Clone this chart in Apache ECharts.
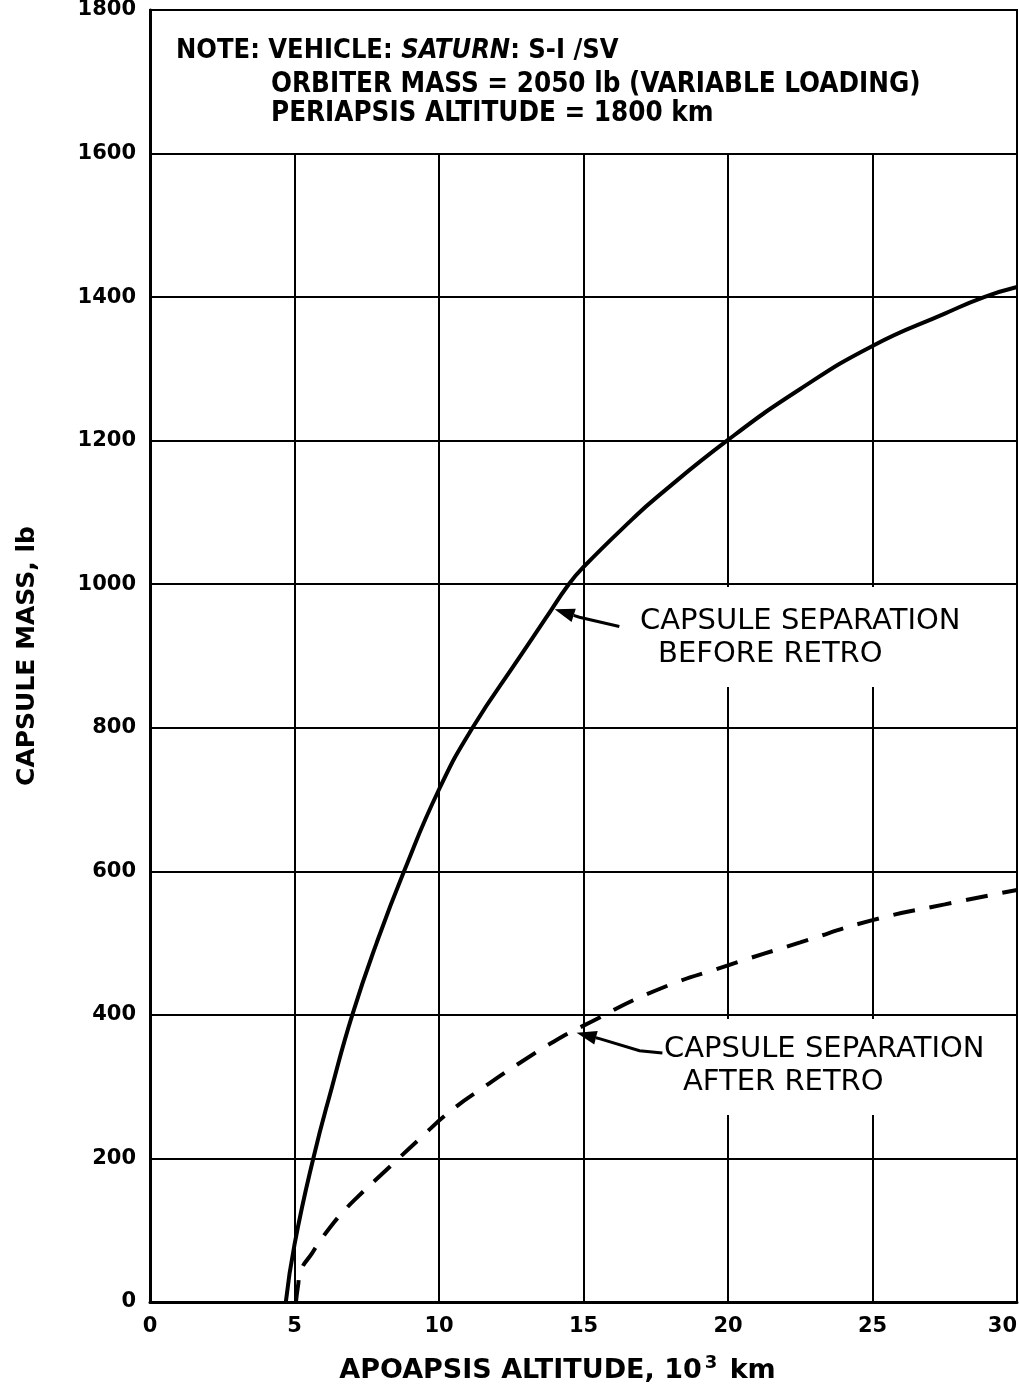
<!DOCTYPE html>
<html>
<head>
<meta charset="utf-8">
<script src="https://cdn.jsdelivr.net/npm/echarts@6/dist/echarts.min.js"></script>
<style>
html,body{margin:0;padding:0;background:#fff;}
#c{width:1019px;height:1384px;}
</style>
</head>
<body>
<div id="c"></div>
<script>
// ---- data ----
const xTicks = [0, 5, 10, 15, 20, 25, 30];
const yTicks = [0, 200, 400, 600, 800, 1000, 1200, 1400, 1600, 1800];
const gridX = [5, 10, 15, 20, 25];
const boxBottom = 1600;

const beforeX = [4.7, 5.0, 5.65, 6.3, 7.0, 7.84, 8.79, 10.0, 11.16, 12.8, 13.7, 14.49, 15.0, 16.7, 17.5, 20.0, 22.5, 25.0, 27.5, 28.86, 30.0];
const beforeY = [0, 80, 200, 300, 400, 500, 600, 714, 800, 899, 953, 1000, 1024, 1091, 1120, 1201, 1272, 1332, 1377, 1400, 1414];

const afterX = [5.05, 5.12, 5.22, 5.61, 5.85, 6.37, 6.65, 7.07, 8.26, 9.32, 10.4, 11.65, 12.83, 13.98, 15.0, 17.5, 20.0, 22.5, 25.0, 27.5, 30.0];
const afterY = [0, 22, 44, 68, 83, 111, 124, 142, 187, 227, 266, 302, 334, 363, 385, 434, 469, 501, 532, 554, 574];

const noteLines = ['ORBITER MASS = 2050 lb (VARIABLE LOADING)', 'PERIAPSIS ALTITUDE = 1800 km'];
const beforeLabel = ['CAPSULE SEPARATION', 'BEFORE RETRO'];
const afterLabel = ['CAPSULE SEPARATION', 'AFTER RETRO'];
const beforeArrow = [[16.24, 941], [14.86, 954], [14.0, 965]];
const afterArrow = [[17.73, 347], [16.94, 350], [15.55, 367], [14.76, 375]];

const FONT = "'DejaVu Sans', 'Noto Sans CJK SC', sans-serif";
const FONTC = "'DejaVu Sans Condensed', 'DejaVu Sans', 'Noto Sans CJK SC', sans-serif";

const zip = (a, b) => a.map((v, i) => [v, b[i]]);

const chart = echarts.init(document.getElementById('c'), null, {renderer: 'canvas'});

chart.setOption({
  animation: false,
  backgroundColor: '#fff',
  grid: {left: 150, right: 2, top: 10, bottom: 82, show: true, borderColor: '#000', borderWidth: 2,
         containLabel: false, outerBoundsMode: 'none'},
  xAxis: {
    type: 'value', min: 0, max: 30, interval: 5,
    axisLine: {show: true, lineStyle: {color: '#000', width: 3}},
    axisTick: {show: false},
    splitLine: {show: false},
    axisLabel: {color: '#000', fontSize: 21, fontWeight: 'bold', fontFamily: FONT, margin: 14,
                alignMaxLabel: 'right', formatter: v => String(v)},
    name: '{a|APOAPSIS ALTITUDE, 10}{s|3}{a| km}',
    nameLocation: 'middle', nameGap: 52,
    nameTextStyle: {color: '#000', fontSize: 27, fontWeight: 'bold', fontFamily: FONT, padding: [0, 52, 0, 0],
      rich: {
        a: {color: '#000', fontSize: 27, fontWeight: 'bold', fontFamily: FONT, verticalAlign: 'bottom', lineHeight: 30},
        s: {color: '#000', fontSize: 18, fontWeight: 'bold', fontFamily: FONT, verticalAlign: 'top', padding: [0, 3, 12, 3], lineHeight: 30}
      }}
  },
  yAxis: {
    type: 'value', min: 0, max: 1800, interval: 200,
    axisLine: {show: true, lineStyle: {color: '#000', width: 3}},
    axisTick: {show: false},
    splitLine: {show: true, lineStyle: {color: '#000', width: 2}},
    axisLabel: {color: '#000', fontSize: 21, fontWeight: 'bold', fontFamily: FONT, margin: 14,
                formatter: v => String(v)},
    name: 'CAPSULE MASS, lb',
    nameLocation: 'middle', nameGap: 110,
    nameTextStyle: {color: '#000', fontSize: 25, fontWeight: 'bold', fontFamily: FONT}
  },
  series: [
    {
      type: 'line', data: [], silent: true,
      markLine: {
        silent: true, symbol: 'none', label: {show: false},
        lineStyle: {color: '#000', width: 2, type: 'solid'},
        data: gridX.map(x => [{coord: [x, 0]}, {coord: [x, boxBottom]}])
      }
    },
    {
      type: 'line', name: 'before', data: zip(beforeX, beforeY),
      showSymbol: false, smooth: 0.5, z: 5,
      lineStyle: {color: '#000', width: 4}
    },
    {
      type: 'line', name: 'after', data: zip(afterX, afterY),
      showSymbol: false, smooth: 0.5, z: 5,
      lineStyle: {color: '#000', width: 4, type: [22, 15]}
    }
  ]
});

const px = p => chart.convertToPixel({gridIndex: 0}, p);

function arrowEls(pts) {
  const P = pts.map(px);
  const t = P[P.length - 1], q = P[P.length - 2];
  let dx = t[0] - q[0], dy = t[1] - q[1];
  const L = Math.hypot(dx, dy); dx /= L; dy /= L;
  const hl = 20, hw = 7;
  const bx = t[0] - dx * hl, by = t[1] - dy * hl;
  const line = P.slice(0, -1).concat([[bx, by]]);
  return [
    {type: 'polyline', z: 100, shape: {points: line}, style: {stroke: '#000', lineWidth: 3, fill: null}},
    {type: 'polygon', z: 100, shape: {points: [t, [bx - dy * hw, by + dx * hw], [bx + dy * hw, by - dx * hw]]}, style: {fill: '#000'}}
  ];
}

const g = [];
// white masks behind labels (gaps in grid lines)
g.push({type: 'rect', z: 90, shape: {x: 632, y: 587, width: 345, height: 100}, style: {fill: '#fff'}});
g.push({type: 'rect', z: 90, shape: {x: 652, y: 1019, width: 345, height: 96}, style: {fill: '#fff'}});
// note text
g.push({type: 'text', z: 100, left: 176, top: 37, style: {
  text: '{b|NOTE: VEHICLE: }{i|SATURN}{b|: S-Ⅰ /SⅤ}',
  rich: {
    b: {fontSize: 27, fontWeight: 'bold', fontFamily: FONTC, fill: '#000'},
    i: {fontSize: 27, fontWeight: 'bold', fontStyle: 'italic', fontFamily: FONTC, fill: '#000'}
  }
}});
g.push({type: 'text', z: 100, left: 271, top: 71, style: {text: noteLines[0], fontSize: 27.5, fontWeight: 'bold', fontFamily: FONTC, fill: '#000'}});
g.push({type: 'text', z: 100, left: 271, top: 100, style: {text: noteLines[1], fontSize: 27.5, fontWeight: 'bold', fontFamily: FONTC, fill: '#000'}});
// curve labels
g.push({type: 'text', z: 100, left: 640, top: 607, style: {text: beforeLabel[0], fontSize: 29, fontFamily: FONT, fill: '#000'}});
g.push({type: 'text', z: 100, left: 658, top: 640, style: {text: beforeLabel[1], fontSize: 29, fontFamily: FONT, fill: '#000'}});
g.push({type: 'text', z: 100, left: 664, top: 1035, style: {text: afterLabel[0], fontSize: 29, fontFamily: FONT, fill: '#000'}});
g.push({type: 'text', z: 100, left: 683, top: 1068, style: {text: afterLabel[1], fontSize: 29, fontFamily: FONT, fill: '#000'}});
arrowEls(beforeArrow).forEach(e => g.push(e));
arrowEls(afterArrow).forEach(e => g.push(e));

chart.setOption({graphic: g});
</script>
</body>
</html>
